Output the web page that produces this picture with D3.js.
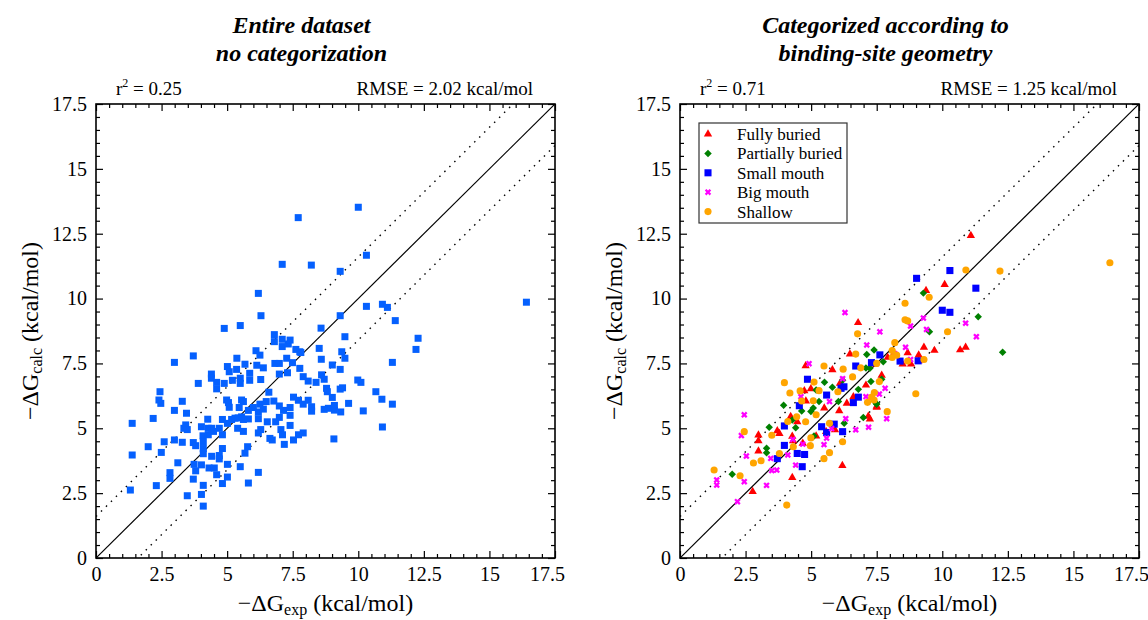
<!DOCTYPE html>
<html>
<head>
<meta charset="utf-8">
<script src="https://cdn.jsdelivr.net/npm/d3@7"></script>
<style>
  body { margin: 0; background: #fff; }
  svg, svg text { font-family: "Liberation Serif", "Times New Roman", "DejaVu Serif", serif; }
</style>
</head>
<body>
<script>
// ---- data (kcal/mol), [-dG exp, -dG calc] ----
const allPoints = [
  [4.89,8.85],[5.50,8.96],[6.80,8.61],[6.80,8.34],[7.10,8.43],[7.10,8.15],[7.33,8.25],[7.40,8.40],[7.62,8.04],[7.77,7.95],
  [2.99,7.54],[3.71,7.79],[3.90,6.73],[4.40,7.09],[4.40,6.93],[4.60,6.77],[4.60,6.52],[4.89,6.73],[5.01,7.38],[5.08,7.18],
  [5.36,7.27],[5.20,6.85],[5.50,6.93],[5.50,6.73],[5.37,7.70],[5.68,7.47],[5.86,7.12],[5.86,6.85],[6.10,7.99],[6.25,7.82],
  [6.13,7.43],[6.38,7.33],[6.28,6.88],[6.82,7.50],[6.99,7.50],[6.99,7.09],[7.27,7.70],[7.30,7.14],[7.49,7.53],[7.77,7.31],
  [7.90,6.99],[8.09,6.82],[8.39,6.77],
  [2.44,6.41],[2.40,6.09],[2.47,5.96],[3.29,6.04],[3.45,5.58],[2.99,5.69],[2.18,5.38],[1.38,5.19],[1.38,3.97],[1.31,2.62],
  [1.99,4.29],[2.49,4.07],[2.60,4.48],[2.30,2.79],[2.82,3.29],[2.82,3.07],[2.99,4.55],[3.12,3.67],[3.29,4.46],[3.35,5.00],
  [3.42,5.13],[3.48,4.95],[3.48,2.40],[3.71,4.45],[3.80,4.33],[3.74,3.61],[3.80,3.36],[3.71,3.04],[4.02,5.06],[4.08,4.71],
  [4.09,4.48],[4.09,4.22],[4.09,4.02],[4.02,3.59],[4.09,2.80],[4.02,2.45],[4.09,2.00],[4.26,5.35],[4.28,5.00],[4.28,4.75],
  [4.31,3.47],[4.41,5.00],[4.48,4.88],[4.41,3.92],[4.51,3.47],[4.70,5.00],[4.70,3.95],[4.70,3.82],[4.60,3.21],[4.82,5.34],
  [4.82,4.75],[4.82,4.22],[4.82,2.87],[5.01,5.19],[4.98,6.09],[5.05,5.99],[5.08,5.81],[5.01,3.61],[5.01,3.12],[5.17,5.34],
  [5.30,5.39],[5.42,5.40],[5.40,5.00],[5.50,3.52],[5.46,5.80],[5.55,6.09],[5.62,6.03],[5.55,5.44],[5.62,5.34],[5.81,5.36],
  [5.62,4.88],[5.68,4.04],[5.78,4.29],[5.81,2.89],[5.81,5.69],[6.00,5.80],[6.19,5.63],[6.19,5.37],[6.25,5.93],[6.38,5.74],
  [6.19,4.82],[6.28,4.95],[6.19,3.30],[6.49,6.03],[6.59,6.39],[6.53,5.25],[6.63,4.61],[6.72,4.55],[6.78,6.05],[6.85,5.25],
  [6.99,5.42],[6.99,5.86],[7.05,4.95],[7.11,4.75],[7.18,4.38],[7.15,5.69],[7.40,5.80],[7.40,5.50],[7.40,5.11],[7.53,4.55],
  [7.53,6.20],[7.72,6.08],[7.72,4.75],[7.90,4.82],[7.90,5.93],[8.09,6.08],[8.22,5.83],[8.22,5.66],
  [7.81,7.92],[9.49,8.53],[8.51,8.08],[8.59,7.66],[9.37,7.95],[9.49,7.70],[9.01,7.44],[9.31,7.27],
  [8.60,7.06],[8.70,6.89],[8.79,6.54],[8.82,6.41],[9.01,6.19],[9.31,6.51],[9.40,6.56],[9.98,6.86],[10.10,6.77],[10.67,6.41],
  [10.90,6.12],[11.30,5.93],[10.19,5.67],[9.63,5.96],[9.33,5.63],[9.09,5.70],[9.09,5.88],[8.86,5.77],[8.70,5.73],
  [9.07,4.59],[10.92,5.05],[11.30,7.54],[12.20,8.04],[12.28,8.47],[11.41,9.15],
  [10.00,13.52],[7.71,13.12],[8.21,11.29],[10.31,11.67],[9.31,11.05],[10.31,9.70],[9.31,9.34],[10.92,9.78],[11.11,9.66],
  [16.41,9.86],[8.58,8.86],[7.10,11.32],[6.19,10.20],[6.29,9.34]
];

const fullyBuried = [
  [6.79,9.07],[6.48,7.86],[5.81,7.25],[4.79,7.41],[4.74,6.44],[4.80,6.05],[4.99,6.52],[4.22,5.45],[4.47,5.25],[2.99,4.74],
  [2.99,4.52],[2.99,4.12],[3.71,4.90],[3.79,4.80],[4.28,4.69],[4.31,4.52],[4.28,3.10],[4.68,4.42],[2.77,2.56],[5.19,4.70],
  [5.50,5.78],[5.57,4.87],[5.91,4.94],[6.07,5.67],[6.19,3.56],[6.10,6.73],[6.36,5.96],[6.61,6.21],[7.09,6.66],[7.18,5.46],
  [7.37,7.49],[7.50,5.85],
  [10.68,8.02],[10.89,8.12],[9.70,8.00],[9.30,8.12],[9.10,7.82],[9.10,7.60],[8.81,7.47],[8.68,7.91],[8.49,7.47],[8.16,7.89],
  [7.92,7.73],[7.42,7.47],[7.69,7.04],[7.50,5.81],[7.24,5.35],
  [11.09,12.43],[10.09,10.54],[9.38,10.31]
];
const partiallyBuried = [
  [1.99,3.23],[3.30,4.23],[3.30,4.06],[3.40,5.04],[3.95,5.89],[4.28,5.32],[4.41,5.02],[4.64,5.67],[4.99,5.65],[5.08,5.78],
  [5.11,4.70],[5.19,6.48],[5.30,6.03],[5.51,6.77],[5.81,6.58],[6.04,6.03],[6.20,6.85],[6.26,5.19],[6.80,6.50],[6.99,5.42],
  [7.12,7.84],[7.09,7.32],[7.28,6.80],[7.40,8.02],[7.48,5.96],
  [12.30,7.93],[9.51,8.72],[7.24,7.31],[7.75,7.56],[7.69,6.89],[7.50,5.93],
  [11.37,9.30],[9.28,10.21]
];
const smallMouth = [
  [4.86,6.89],[4.55,5.87],[3.98,5.09],[3.98,4.34],[3.71,3.83],[4.47,4.03],[4.75,3.99],[4.66,3.52],[5.40,5.06],[5.59,4.84],
  [5.59,6.28],[5.88,5.16],[6.20,4.87],[6.14,6.54],[6.25,6.60],[6.61,5.99],[6.70,7.40],[6.80,6.20],[7.30,7.53],[7.62,7.83],
  [8.39,7.59],[9.08,7.60],
  [9.02,10.78],[10.29,11.08],[11.28,10.40],[10.00,9.55],[10.29,9.47]
];
const bigMouth = [
  [1.40,3.01],[1.40,2.81],[2.19,2.17],[2.34,4.72],[2.45,5.52],[2.53,3.93],[2.45,2.94],[3.30,2.80],[3.50,3.37],[3.69,3.39],
  [3.46,3.84],[4.11,3.97],[4.41,3.58],[4.30,4.57],[4.68,4.39],[4.61,6.22],[4.92,7.49],[5.49,4.37],[5.59,4.62],[5.70,6.03],
  [5.78,4.99],[6.20,6.91],[6.32,5.37],[6.70,4.94],[7.09,6.22],[7.12,8.21],[7.19,5.04],[7.62,8.72],
  [10.89,9.05],[11.30,8.53],[9.40,8.81],[8.79,8.94],[8.60,8.12],[8.79,7.65],[8.19,7.87],[7.82,6.54],[7.60,6.32],[7.88,5.37],
  [9.28,9.25],[6.29,9.46]
];
const shallow = [
  [1.30,3.39],[2.29,3.17],[2.45,4.87],[2.80,3.66],[3.09,3.75],[3.50,4.73],[3.79,4.03],[3.98,6.76],[4.19,6.36],[4.11,5.26],
  [4.32,4.29],[4.45,5.44],[4.58,6.44],[4.64,6.05],[4.79,5.25],[4.99,4.63],[4.97,4.33],[5.08,6.06],[5.11,6.78],[5.19,5.52],
  [5.30,6.45],[5.49,7.40],[5.49,3.83],[5.70,4.06],[5.70,5.19],[6.02,6.41],[6.20,4.48],[6.22,7.28],[6.58,6.98],[6.70,7.86],
  [6.77,8.64],[6.89,7.33],[7.15,6.00],[4.07,2.04],[7.31,6.20],
  [8.68,9.14],[10.20,8.72],[8.19,8.30],[8.09,8.00],[8.26,7.82],[8.09,7.73],[8.68,7.59],[9.30,7.65],[7.50,7.50],[7.60,6.80],
  [7.41,6.38],[7.40,6.09],[7.90,5.64],[8.99,6.33],
  [16.39,11.38],[12.20,11.06],[10.90,11.10],[9.50,10.05],[8.58,9.82],[8.58,9.18]
];

const categoryNames = ["Fully buried", "Partially buried", "Small mouth", "Big mouth", "Shallow"];
const categoryData = [fullyBuried, partiallyBuried, smallMouth, bigMouth, shallow];
const categoryColors = ["#ff0000", "#008000", "#0000ff", "#ff00ff", "#ffa500"];

const titles = [["Entire dataset", "no categorization"], ["Categorized according to", "binding-site geometry"]];
const r2Values = ["0.25", "0.71"];
const rmseValues = ["2.02", "1.25"];
const majorTicks = [0, 2.5, 5, 7.5, 10, 12.5, 15, 17.5];
const bandOffset = 1.6;

// ---- layout ----
const W = 1148, H = 620;
const plotW = 459, plotH = 454, plotTop = 104;
const panelLefts = [96, 680];
const serif = '"Liberation Serif", "Times New Roman", "DejaVu Serif", serif';

const svg = d3.select("body").append("svg")
  .attr("width", W).attr("height", H);

const x = d3.scaleLinear().domain([0, 17.5]).range([0, plotW]);
const y = d3.scaleLinear().domain([0, 17.5]).range([plotH, 0]);
const minorTicks = d3.range(0, 17.51, 0.5);

const symbolFor = [
  d3.symbol().type(d3.symbolTriangle).size(30),
  d3.symbol().type(d3.symbolSquare).size(28),
  d3.symbol().type(d3.symbolSquare).size(50),
  d3.symbol().type(d3.symbolCross).size(26),
  d3.symbol().type(d3.symbolCircle).size(40)
];
const symbolRotate = [0, 45, 0, 45, 0];

function drawPanel(p) {
  const g = svg.append("g").attr("transform", `translate(${panelLefts[p]},${plotTop})`);

  // title
  const tx = panelLefts[p] + plotW / 2 - 24;
  const t = svg.append("text")
    .attr("text-anchor", "middle").style("font-family", serif)
    .style("font-size", "24px").style("font-weight", "bold").style("font-style", "italic");
  t.append("tspan").attr("x", tx).attr("y", 33).text(titles[p][0]);
  t.append("tspan").attr("x", tx).attr("y", 61).text(titles[p][1]);

  // r2 and rmse
  const r = g.append("text").attr("x", 20).attr("y", -9).style("font-size", "19px");
  r.append("tspan").text("r");
  r.append("tspan").attr("dy", -8).style("font-size", "12px").text("2");
  r.append("tspan").attr("dy", 8).text(" = " + r2Values[p]);
  g.append("text").attr("x", plotW - 22).attr("y", -9)
    .attr("text-anchor", "end").style("font-size", "19px")
    .text("RMSE = " + rmseValues[p] + " kcal/mol");

  // diagonal lines
  const clip = "clip" + p;
  g.append("clipPath").attr("id", clip).append("rect").attr("width", plotW).attr("height", plotH);
  const lines = g.append("g").attr("clip-path", `url(#${clip})`);
  lines.append("line")
    .attr("x1", x(0)).attr("y1", y(0)).attr("x2", x(17.5)).attr("y2", y(17.5))
    .attr("stroke", "#000").attr("stroke-width", 1.2);
  [bandOffset, -bandOffset].forEach(o => {
    lines.append("line")
      .attr("x1", x(0)).attr("y1", y(o)).attr("x2", x(17.5)).attr("y2", y(17.5 + o))
      .attr("stroke", "#000").attr("stroke-width", 1.4)
      .attr("stroke-dasharray", "1.5,5.5");
  });

  // axes (ticks inward on all four sides)
  const fmt = d => d;
  const axes = [
    [d3.axisBottom(x), `translate(0,${plotH})`, true],
    [d3.axisLeft(y), null, true],
    [d3.axisTop(x), null, false],
    [d3.axisRight(y), `translate(${plotW},0)`, false]
  ];
  axes.forEach(([ax, tr, labels], k) => {
    const maj = g.append("g").attr("transform", tr)
      .call(ax.tickValues(majorTicks).tickSize(-7).tickPadding(9).tickFormat(labels ? fmt : ""));
    maj.select(".domain").remove();
    maj.selectAll("line").attr("stroke", "#000").attr("stroke-width", 1.2);
    maj.selectAll("text").style("font-size", "20px").style("font-family", serif).attr("fill", "#000");
    // last x label is pulled inside, as in the original
    if (k === 0) maj.selectAll("text").filter(d => d === 17.5).attr("dx", -8);
    const mn = g.append("g").attr("transform", tr)
      .call(ax.tickValues(minorTicks.filter(v => majorTicks.indexOf(v) < 0)).tickSize(-4).tickFormat(""));
    mn.select(".domain").remove();
    mn.selectAll("line").attr("stroke", "#000").attr("stroke-width", 1.2);
  });

  g.append("rect").attr("width", plotW).attr("height", plotH)
    .attr("fill", "none").attr("stroke", "#000").attr("stroke-width", 1.6);

  // axis labels
  const xl = g.append("text").attr("x", plotW / 2).attr("y", plotH + 53)
    .attr("text-anchor", "middle").style("font-size", "24px");
  xl.append("tspan").text("\u2212\u0394G");
  xl.append("tspan").attr("dy", 4).style("font-size", "16px").text("exp");
  xl.append("tspan").attr("dy", -4).text(" (kcal/mol)");

  const yl = svg.append("text")
    .attr("transform", `translate(${panelLefts[p] - 58},${plotTop + plotH / 2}) rotate(-90)`)
    .attr("text-anchor", "middle").style("font-size", "24px");
  yl.append("tspan").text("\u2212\u0394G");
  yl.append("tspan").attr("dy", 4).style("font-size", "16px").text("calc");
  yl.append("tspan").attr("dy", -4).text(" (kcal/mol)");

  return g;
}

// left panel
const gl = drawPanel(0);
gl.append("g").selectAll("rect")
  .data(allPoints)
  .join("rect")
    .attr("x", d => x(d[0]) - 3.5)
    .attr("y", d => y(d[1]) - 3.5)
    .attr("width", 7).attr("height", 7)
    .attr("fill", "#0560fe");

// right panel
const gr = drawPanel(1);
categoryData.forEach((pts, i) => {
  gr.append("g").selectAll("path")
    .data(pts)
    .join("path")
      .attr("d", symbolFor[i])
      .attr("transform", d => `translate(${x(d[0])},${y(d[1])}) rotate(${symbolRotate[i]})`)
      .attr("fill", categoryColors[i]);
});

// legend
const legend = gr.append("g").attr("transform", "translate(19,19)");
legend.append("rect").attr("width", 148).attr("height", 100)
  .attr("fill", "#fff").attr("stroke", "#333").attr("stroke-width", 1.2);
categoryNames.forEach((name, i) => {
  const row = legend.append("g").attr("transform", `translate(0,${11 + i * 19.4})`);
  row.append("path").attr("d", symbolFor[i])
    .attr("transform", `translate(9,0) rotate(${symbolRotate[i]})`)
    .attr("fill", categoryColors[i]);
  row.append("text").attr("x", 38).attr("dy", "0.35em")
    .style("font-size", "17px").text(name);
});
</script>
</body>
</html>
